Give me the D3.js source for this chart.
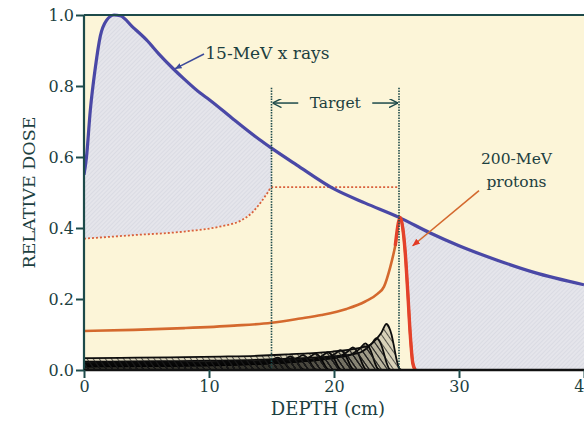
<!DOCTYPE html>
<html>
<head>
<meta charset="utf-8">
<script src="https://cdn.jsdelivr.net/npm/d3@7"></script>
<style>
  body { margin: 0; background: #fff; }
  svg { display: block; }
  text { font-family: "DejaVu Serif", serif; fill: #1c4040; }
</style>
</head>
<body>
<svg width="584" height="422"></svg>
<script>
// 15-MeV x-ray depth dose
const xrayDepth = [0, 0.2, 0.5, 0.9, 1.3, 1.8, 2.4, 2.9, 3.9, 5, 6, 7.1, 8, 9.3, 10, 12, 14, 15, 17, 20, 22.5, 25.2, 27.7, 30, 33, 36, 40];
const xrayDose  = [0.55, 0.6, 0.73, 0.85, 0.94, 0.985, 1.0, 0.998, 0.966, 0.93, 0.89, 0.85, 0.82, 0.78, 0.762, 0.705, 0.65, 0.625, 0.578, 0.51, 0.47, 0.43, 0.386, 0.35, 0.31, 0.275, 0.24];

// 200-MeV proton Bragg curve
const protonDepth = [0, 4, 8, 12, 15, 17.3, 19, 21, 22.5, 23.5, 24.0, 24.5, 24.9, 25.3, 25.5, 25.7, 25.9, 26.1, 26.3, 26.5];
const protonDose  = [0.11, 0.113, 0.118, 0.125, 0.133, 0.145, 0.155, 0.172, 0.193, 0.215, 0.235, 0.29, 0.35, 0.43, 0.40, 0.33, 0.22, 0.1, 0.02, 0];

// spread-out peak (dotted line)
const sobpDepth = [0, 4, 8, 11, 12.5, 13.5, 14.2, 14.7, 15, 25.2];
const sobpDose  = [0.37, 0.38, 0.39, 0.405, 0.42, 0.445, 0.475, 0.5, 0.515, 0.515];

// pristine peaks making up the spread-out peak
const pristineRange = [15.5, 16.5, 17.5, 18.5, 19.5, 20.5, 21.5, 22.5, 23.4, 24.2];
const pristinePeak  = [0.035, 0.038, 0.042, 0.046, 0.05, 0.056, 0.064, 0.075, 0.09, 0.13];

const targetStart = 15, targetEnd = 25.2;
const xTicks = [0, 10, 20, 30, 40];
const yTicks = [0, 0.2, 0.4, 0.6, 0.8, 1.0];

const margin = { left: 84, right: 0, top: 15, bottom: 52 };
const svg = d3.select('svg');
const width = +svg.attr('width');
const height = +svg.attr('height');

const x = d3.scaleLinear().domain([0, 40]).range([margin.left, width - margin.right]);
const y = d3.scaleLinear().domain([0, 1]).range([height - margin.bottom, margin.top]);

const ink = '#1d4a4a';
const defs = svg.append('defs');

const grayHatch = defs.append('pattern')
  .attr('id', 'grayHatch').attr('patternUnits', 'userSpaceOnUse')
  .attr('width', 3).attr('height', 3).attr('patternTransform', 'rotate(45)');
grayHatch.append('rect').attr('width', 3).attr('height', 3).attr('fill', '#e5e5eb');
grayHatch.append('line').attr('x1', 0).attr('y1', 0).attr('x2', 0).attr('y2', 3)
  .attr('stroke', '#d0d1db').attr('stroke-width', 1);

const blackHatch = defs.append('pattern')
  .attr('id', 'blackHatch').attr('patternUnits', 'userSpaceOnUse')
  .attr('width', 5).attr('height', 5).attr('patternTransform', 'rotate(-35)');
blackHatch.append('line').attr('x1', 0).attr('y1', 0).attr('x2', 0).attr('y2', 5)
  .attr('stroke', '#1a1a1a').attr('stroke-width', 1.4);

defs.append('clipPath').attr('id', 'plotClip').append('rect')
  .attr('x', x(0)).attr('y', y(1) - 5).attr('width', x(40) - x(0)).attr('height', y(0) - y(1) + 5);

defs.append('marker').attr('id', 'arrBlue').attr('viewBox', '0 0 10 10')
  .attr('refX', 9).attr('refY', 5).attr('markerWidth', 7).attr('markerHeight', 7)
  .attr('orient', 'auto').attr('markerUnits', 'userSpaceOnUse')
  .append('path').attr('d', 'M0,1 L10,5 L0,9 Z').attr('fill', '#3c4a9a');
defs.append('marker').attr('id', 'arrRed').attr('viewBox', '0 0 10 10')
  .attr('refX', 9).attr('refY', 5).attr('markerWidth', 8).attr('markerHeight', 8)
  .attr('orient', 'auto').attr('markerUnits', 'userSpaceOnUse')
  .append('path').attr('d', 'M0,1 L10,5 L0,9 Z').attr('fill', '#e33a26');
defs.append('marker').attr('id', 'arrInk').attr('viewBox', '0 0 10 10')
  .attr('refX', 10).attr('refY', 5).attr('markerWidth', 9).attr('markerHeight', 9)
  .attr('orient', 'auto').attr('markerUnits', 'userSpaceOnUse')
  .append('path').attr('d', 'M0,0 L10,5 L0,10').attr('fill', 'none').attr('stroke', ink).attr('stroke-width', 1.6);

// plot background
svg.append('rect')
  .attr('x', x(0)).attr('y', y(1))
  .attr('width', x(40) - x(0)).attr('height', y(0) - y(1))
  .attr('fill', '#fcf5d8');

const zip = (xs, ys) => xs.map((d, i) => [d, ys[i]]);
const xrayPts = zip(xrayDepth, xrayDose);
const protonPts = zip(protonDepth, protonDose);
const sobpPts = zip(sobpDepth, sobpDose);
const xrayAt = d3.scaleLinear().domain(xrayDepth).range(xrayDose);

const line = d3.line().x(d => x(d[0])).y(d => y(d[1])).curve(d3.curveMonotoneX);
const lineLin = d3.line().x(d => x(d[0])).y(d => y(d[1]));
const area = d3.area().x(d => x(d[0])).y0(y(0)).y1(d => y(d[1])).curve(d3.curveMonotoneX);

const g = svg.append('g').attr('clip-path', 'url(#plotClip)');

// shaded region 1: between x-ray curve and spread-out peak, before target
const topA = xrayPts.filter(d => d[0] < targetStart).concat([[targetStart, xrayAt(targetStart)]]);
const botA = sobpPts.filter(d => d[0] <= targetStart).reverse();
g.append('path')
  .attr('d', line(topA) + 'L' + lineLin(botA).slice(1) + 'Z')
  .attr('fill', 'url(#grayHatch)');

// shaded region 2: beyond the proton peak, below x-ray curve
const peakDepth = 25.3;
const topB = [[peakDepth, xrayAt(peakDepth)]].concat(xrayPts.filter(d => d[0] > peakDepth));
const botB = protonPts.filter(d => d[0] >= peakDepth).concat([[40, 0]]).reverse();
g.append('path')
  .attr('d', line(topB) + 'L' + lineLin(botB).slice(1) + 'Z')
  .attr('fill', 'url(#grayHatch)');

// pristine peaks: proton curve shifted to each range and scaled to each height
const topDose = d3.max(protonDose);
pristineRange.forEach((r, i) => {
  const k = pristinePeak[i] / topDose;
  const pts = protonPts.map(d => [d[0] - peakDepth + r, d[1] * k]);
  g.append('path').attr('d', area(pts)).attr('fill', 'rgba(0,0,0,0.14)');
  g.append('path').attr('d', area(pts)).attr('fill', 'url(#blackHatch)');
  g.append('path')
    .attr('d', line(pts))
    .attr('fill', 'none').attr('stroke', '#0d0d0d').attr('stroke-width', 1.8);
});

// spread-out peak dotted line
g.append('path')
  .attr('d', line(sobpPts))
  .attr('fill', 'none').attr('stroke', '#d9603c')
  .attr('stroke-width', 1.8).attr('stroke-dasharray', '2,2');

// x-ray curve
g.append('path')
  .attr('d', line(xrayPts))
  .attr('fill', 'none').attr('stroke', '#4a48a6').attr('stroke-width', 3.2);

// proton curve
g.append('path')
  .attr('d', line(protonPts))
  .attr('fill', 'none').attr('stroke', '#d4692e').attr('stroke-width', 2.6);
g.append('path')
  .attr('d', line(protonPts.filter(d => d[0] >= 24.9)))
  .attr('fill', 'none').attr('stroke', '#e4422a').attr('stroke-width', 3.4);

// target lines
const targetTop = 0.795;
[targetStart, targetEnd].forEach(t => {
  svg.append('line')
    .attr('x1', x(t)).attr('x2', x(t)).attr('y1', y(targetTop)).attr('y2', y(0))
    .attr('stroke', ink).attr('stroke-width', 1.6).attr('stroke-dasharray', '1.5,1.2');
});
const targetY = 0.752;
const midT = (targetStart + targetEnd) / 2;
svg.append('line')
  .attr('x1', x(midT) - 37).attr('x2', x(targetStart) + 1)
  .attr('y1', y(targetY)).attr('y2', y(targetY))
  .attr('stroke', ink).attr('stroke-width', 1.5).attr('marker-end', 'url(#arrInk)');
svg.append('line')
  .attr('x1', x(midT) + 37).attr('x2', x(targetEnd) - 1)
  .attr('y1', y(targetY)).attr('y2', y(targetY))
  .attr('stroke', ink).attr('stroke-width', 1.5).attr('marker-end', 'url(#arrInk)');
svg.append('text')
  .attr('x', x(midT)).attr('y', y(targetY) + 5)
  .attr('text-anchor', 'middle').attr('font-size', 15.5).text('Target');

// frame
svg.append('line').attr('x1', x(0)).attr('x2', x(40)).attr('y1', y(1)).attr('y2', y(1))
  .attr('stroke', ink).attr('stroke-width', 2);
svg.append('line').attr('x1', x(0)).attr('x2', x(0)).attr('y1', y(1)).attr('y2', y(0))
  .attr('stroke', ink).attr('stroke-width', 2.2);
svg.append('line').attr('x1', x(0)).attr('x2', x(40)).attr('y1', y(0)).attr('y2', y(0))
  .attr('stroke', '#111').attr('stroke-width', 2.5);

// axes
const xAxisG = svg.append('g').attr('transform', `translate(0, ${y(0)})`)
  .call(d3.axisBottom(x).tickValues(xTicks).tickFormat(d3.format('d')).tickSize(8).tickPadding(3));
const yAxisG = svg.append('g').attr('transform', `translate(${x(0)}, 0)`)
  .call(d3.axisLeft(y).tickValues(yTicks).tickFormat(d3.format('.1f')).tickSize(8).tickPadding(2));
[xAxisG, yAxisG].forEach(a => {
  a.select('.domain').remove();
  a.selectAll('.tick line').attr('stroke', ink).attr('stroke-width', 2);
  a.selectAll('.tick text').attr('fill', '#1c4040').attr('font-size', 16)
    .attr('font-family', '"DejaVu Serif", serif');
});

// axis titles
svg.append('text')
  .attr('transform', `translate(35, ${(y(0) + y(1)) / 2}) rotate(-90)`)
  .attr('text-anchor', 'middle').attr('font-size', 17.5).text('RELATIVE DOSE');
svg.append('text')
  .attr('x', x(20) - 6).attr('y', 415)
  .attr('text-anchor', 'middle').attr('font-size', 18).text('DEPTH (cm)');

// x-ray annotation
svg.append('text').attr('x', x(9.7)).attr('y', y(0.875)).attr('font-size', 17).text('15-MeV x rays');
svg.append('line')
  .attr('x1', x(9.6)).attr('y1', y(0.89))
  .attr('x2', x(7.3)).attr('y2', y(xrayAt(7.3)) - 2)
  .attr('stroke', '#3c4a9a').attr('stroke-width', 1.6).attr('marker-end', 'url(#arrBlue)');

// proton annotation
svg.append('text').attr('x', x(34.6)).attr('y', y(0.58)).attr('text-anchor', 'middle')
  .attr('font-size', 15.5).text('200-MeV');
svg.append('text').attr('x', x(34.6)).attr('y', y(0.515)).attr('text-anchor', 'middle')
  .attr('font-size', 15.5).text('protons');
svg.append('line')
  .attr('x1', x(31.6)).attr('y1', y(0.505))
  .attr('x2', x(26.3)).attr('y2', y(0.35))
  .attr('stroke', '#d4692e').attr('stroke-width', 1.6).attr('marker-end', 'url(#arrRed)');
</script>
</body>
</html>
